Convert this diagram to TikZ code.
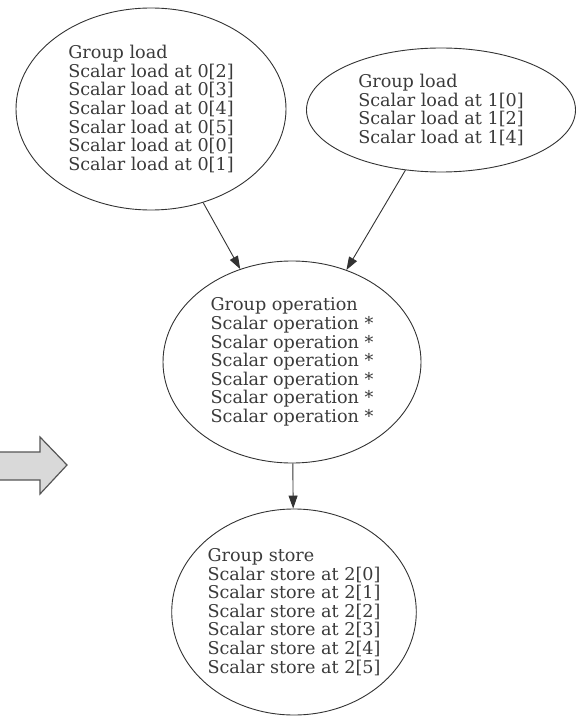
\documentclass[tikz,border=0pt]{standalone}
\usepackage{fontspec}
\setmainfont{DejaVu Serif}
\usetikzlibrary{shapes.geometric,arrows.meta}
\definecolor{linec}{HTML}{333333}
\definecolor{textc}{HTML}{3A3A3A}
\definecolor{blockfill}{HTML}{D9D9D9}
\definecolor{blockline}{HTML}{555555}

\begin{document}
\begin{tikzpicture}[x=1pt,y=-1pt,
  state/.style={draw=linec, line width=0.9pt, ellipse, inner sep=0pt,
    font=\fontsize{17.6}{18.6}\selectfont, text=textc, align=left},
  flow/.style={draw=linec, line width=0.9pt,
    -{Triangle[length=13pt,width=9pt]}}]
\useasboundingbox (0,0) rectangle (577,719);

% block arrow on the left edge
\draw[fill=blockfill, draw=blockline, line width=1.2pt, line join=miter]
  (-5,452) -- (40,452) -- (40,437) -- (67,465) -- (40,494) -- (40,480) -- (-5,480) -- cycle;

% loads
\node[state, minimum width=270pt, minimum height=202pt] (ld0) at (151,109)
  {Group load\\Scalar load at 0[2]\\Scalar load at 0[3]\\Scalar load at 0[4]\\Scalar load at 0[5]\\Scalar load at 0[0]\\Scalar load at 0[1]};
\node[state, minimum width=269pt, minimum height=124pt] (ld1) at (441,110)
  {Group load\\Scalar load at 1[0]\\Scalar load at 1[2]\\Scalar load at 1[4]};

% operation
\node[state, minimum width=258pt, minimum height=202pt] (op) at (292,362)
  {Group operation\\Scalar operation *\\Scalar operation *\\Scalar operation *\\Scalar operation *\\Scalar operation *\\Scalar operation *};

% store
\node[state, minimum width=242pt, minimum height=206pt] (st) at (294,612)
  {Group store\\Scalar store at 2[0]\\Scalar store at 2[1]\\Scalar store at 2[2]\\Scalar store at 2[3]\\Scalar store at 2[4]\\Scalar store at 2[5]};

\draw[flow] (ld0) -- (op);
\draw[flow] (ld1) -- (op);
\draw[flow] (op) -- (st);
\end{tikzpicture}
\end{document}
